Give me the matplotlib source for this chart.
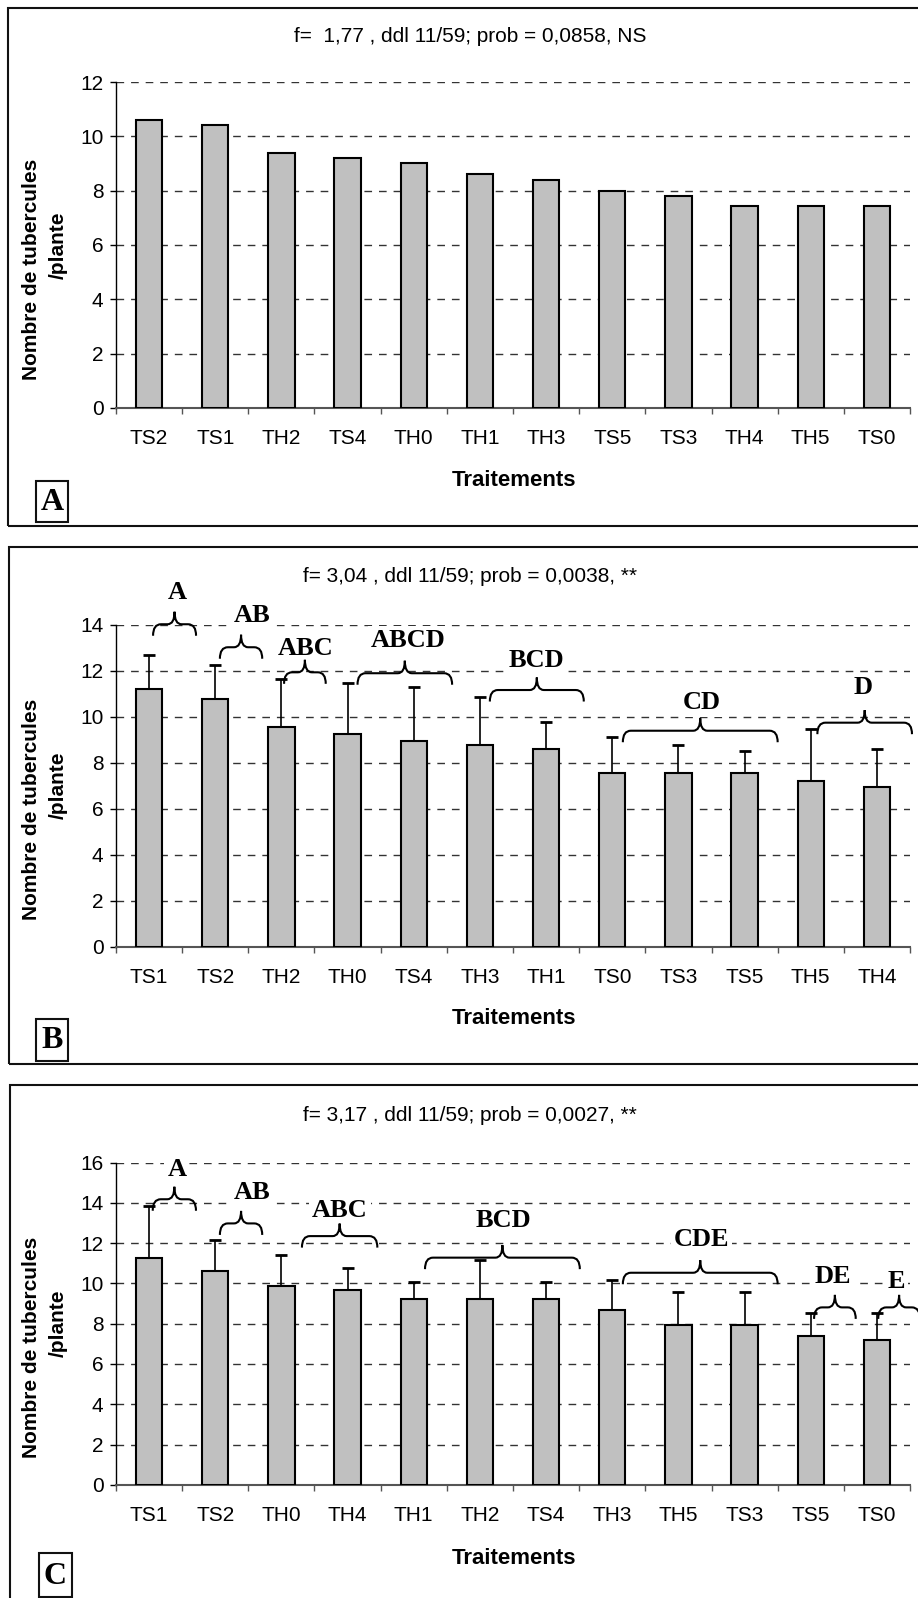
import numpy as np
import matplotlib
matplotlib.use("Agg")
import matplotlib.pyplot as plt
from matplotlib.patches import Rectangle, PathPatch
from matplotlib.path import Path
from matplotlib.transforms import IdentityTransform

W, H = 918, 1598
DPI = 100

# panel A
cats_a = ["TS2", "TS1", "TH2", "TS4", "TH0", "TH1", "TH3", "TS5", "TS3", "TH4", "TH5", "TS0"]
vals_a = [10.6, 10.4, 9.4, 9.2, 9.0, 8.6, 8.4, 8.0, 7.8, 7.45, 7.45, 7.45]
title_a = "f=  1,77 , ddl 11/59; prob = 0,0858, NS"

# panel B
cats_b = ["TS1", "TS2", "TH2", "TH0", "TS4", "TH3", "TH1", "TS0", "TS3", "TS5", "TH5", "TH4"]
vals_b = [11.21, 10.79, 9.57, 9.23, 8.95, 8.78, 8.61, 7.56, 7.56, 7.56, 7.22, 6.96]
err_b = [1.48, 1.47, 2.09, 2.25, 2.35, 2.09, 1.15, 1.57, 1.22, 0.96, 2.26, 1.65]
groups_b = ["A", "AB", "ABC", "ABCD", "BCD", "CD", "D"]
title_b = "f= 3,04 , ddl 11/59; prob = 0,0038, **"

# panel C
cats_c = ["TS1", "TS2", "TH0", "TH4", "TH1", "TH2", "TS4", "TH3", "TH5", "TS3", "TS5", "TS0"]
vals_c = [11.24, 10.63, 9.85, 9.65, 9.25, 9.25, 9.25, 8.66, 7.96, 7.96, 7.38, 7.18]
err_c = [2.61, 1.51, 1.57, 1.11, 0.80, 1.89, 0.80, 1.49, 1.59, 1.59, 1.16, 1.36]
groups_c = ["A", "AB", "ABC", "BCD", "CDE", "DE", "E"]
title_c = "f= 3,17 , ddl 11/59; prob = 0,0027, **"

# brace placement (x start, x end, y of brace, x of label, y of label) in data units
brace_pos_b = [(0.06, 0.71, 14.02, 0.42, 15.4), (1.07, 1.71, 13.02, 1.55, 14.38),
               (2.04, 2.67, 11.93, 2.37, 12.97), (3.15, 4.58, 11.89, 3.91, 13.33),
               (5.15, 6.57, 11.16, 5.86, 12.43), (7.16, 9.50, 9.39, 8.36, 10.6),
               (10.10, 11.53, 9.74, 10.79, 11.28)]
brace_pos_c = [(0.055, 0.709, 14.18, 0.42, 15.67), (1.07, 1.71, 12.98, 1.55, 14.52),
               (2.31, 3.45, 12.35, 2.885, 13.6), (4.17, 6.51, 11.28, 5.35, 13.11),
               (7.16, 9.50, 10.53, 8.35, 12.19), (10.05, 10.68, 8.81, 10.33, 10.33),
               (11.02, 11.65, 8.81, 11.30, 10.08)]

SANS = "Liberation Sans"
SERIF = "Liberation Serif"

fig = plt.figure(figsize=(W / DPI, H / DPI), dpi=DPI)


def px_rect(x0, y0, x1, y1):
    return [x0 / W, 1 - y1 / H, (x1 - x0) / W, (y1 - y0) / H]


def brace(ax, x0, x1, y, de=11.5, dt=12.5, re=8.0, rt=7.0):
    # curly brace drawn in display pixels, tip pointing up
    (a, yl), (b, _) = ax.transData.transform([(x0, y), (x1, y)])
    xm = (a + b) / 2
    verts = [(a, yl - de), (a, yl), (a + re, yl),
             (xm - rt, yl), (xm, yl), (xm, yl + dt),
             (xm, yl), (xm + rt, yl),
             (b - re, yl), (b, yl), (b, yl - de)]
    codes = [Path.MOVETO, Path.CURVE3, Path.CURVE3,
             Path.LINETO, Path.CURVE3, Path.CURVE3,
             Path.CURVE3, Path.CURVE3,
             Path.LINETO, Path.CURVE3, Path.CURVE3]
    fig.add_artist(PathPatch(Path(verts, codes), facecolor="none", edgecolor="black",
                             lw=1.5, transform=IdentityTransform(), zorder=6, clip_on=False))


def frame(x0, y0, x1, y1, face="none"):
    fig.add_artist(Rectangle((x0 / W, 1 - y1 / H), (x1 - x0) / W, (y1 - y0) / H,
                             transform=fig.transFigure, facecolor=face,
                             edgecolor="#111111", lw=1.5, clip_on=False))


def panel(cats, vals, err, ymax, ax_top, ax_bot, letter, box, lbox, groups=None, bpos=None):
    ax = fig.add_axes(px_rect(116, ax_top, 910, ax_bot))
    x = np.arange(len(cats))
    ax.bar(x, vals, width=0.4, color="#c0c0c0", edgecolor="black", lw=1.5, zorder=3)
    if err is not None:
        ax.errorbar(x, vals, yerr=[np.zeros(len(err)), err], fmt="none", ecolor="black",
                    elinewidth=1.2, capsize=4.3, capthick=2, zorder=2)
    ax.set_xlim(-0.5, len(cats) - 0.5)
    ax.set_ylim(0, ymax)
    ax.set_yticks(np.arange(0, ymax + 1, 2))
    ax.set_xticks(np.arange(-0.5, len(cats), 1))
    ax.set_xticklabels([])
    ax.set_xticks(x, cats, minor=True)
    ax.tick_params(axis="x", which="major", length=4.5, width=1, color="#555555", direction="out")
    ax.tick_params(axis="x", which="minor", length=0, pad=15, labelsize=15)
    ax.tick_params(axis="y", length=4, width=1, direction="out", pad=5, labelsize=15)
    for t in ax.get_xticklabels(minor=True) + ax.get_yticklabels():
        t.set_fontfamily(SANS)
    ax.yaxis.grid(True, color="#333333", lw=1, linestyle=(0, (5.5, 5)))
    ax.set_axisbelow(True)
    for s in ["top", "right"]:
        ax.spines[s].set_visible(False)
    ax.spines["left"].set_linewidth(1)
    ax.spines["bottom"].set_color("#555555")
    ax.spines["bottom"].set_linewidth(1.5)

    yc = (ax_top + ax_bot) / 2
    fig.text(32 / W, 1 - (yc + 24) / H, "Nombre de tubercules", rotation=90, ha="center",
             va="center", fontsize=15, fontweight="bold", family=SANS)
    fig.text(58.5 / W, 1 - yc / H, "/plante", rotation=90, ha="center", va="center",
             fontsize=15, fontweight="bold", family=SANS)

    frame(*box)
    frame(*lbox, face="white")
    fig.text((lbox[0] + lbox[2]) / 2 / W, 1 - ((lbox[1] + lbox[3]) / 2 + 1) / H, letter,
             ha="center", va="center", fontsize=23, fontweight="bold", family=SERIF)

    if groups is not None:
        for g, (x0, x1, yb, xl, yl) in zip(groups, bpos):
            brace(ax, x0, x1, yb)
            ax.text(xl, yl, g, ha="center", va="center", fontsize=19, fontweight="bold",
                    family=SERIF, zorder=5, clip_on=False,
                    bbox=dict(facecolor="white", edgecolor="none", pad=2))
    return ax


panels = [
    (cats_a, vals_a, None, 12, 82, 408, title_a, "A", (8.3, 8.4, 935, 525.7),
     (35.7, 480.7, 68.3, 522.3), None, None, 37, 481),
    (cats_b, vals_b, err_b, 14, 624.7, 946.7, title_b, "B", (8.8, 547, 935, 1063.5),
     (36, 1019, 68.3, 1061), groups_b, brace_pos_b, 576.5, 1019),
    (cats_c, vals_c, err_c, 16, 1162.6, 1484.8, title_c, "C", (10, 1085, 935, 1620),
     (39, 1553.3, 71.7, 1597), groups_c, brace_pos_c, 1115.5, 1558),
]

for cats, vals, err, ymax, t, b, title, letter, box, lbox, groups, bpos, ty, xly in panels:
    panel(cats, vals, err, ymax, t, b, letter, box, lbox, groups, bpos)
    fig.text(470 / W, 1 - ty / H, title, ha="center", va="center", fontsize=15, family=SANS)
    fig.text(514 / W, 1 - xly / H, "Traitements", ha="center", va="center", fontsize=16,
             fontweight="bold", family=SANS)

fig.savefig("out.png", dpi=DPI)
